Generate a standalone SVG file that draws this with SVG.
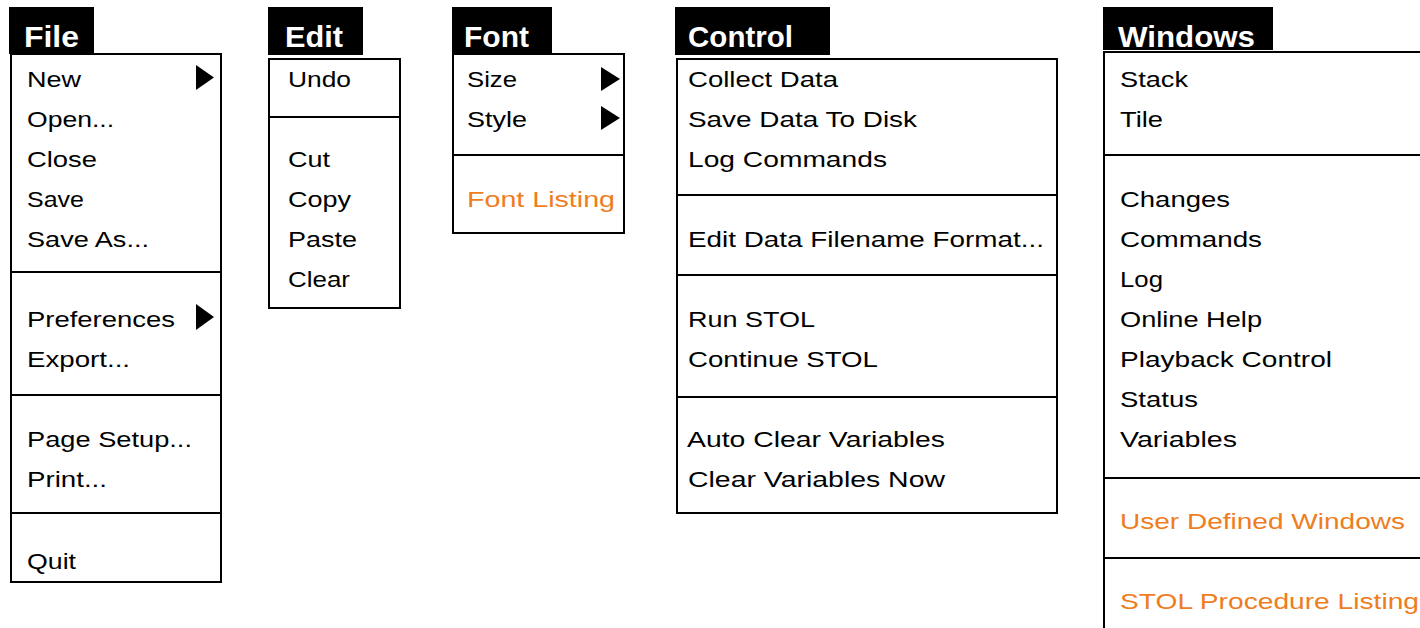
<svg xmlns="http://www.w3.org/2000/svg" width="1420" height="628" viewBox="0 0 1420 628">
  <style>
    .bg { fill: #ffffff; }
    .title { fill: #000000; }
    .title-text { fill: #ffffff; font-family: "Liberation Sans", Arial, sans-serif; font-weight: bold; font-size: 30px; }
    .box { fill: #ffffff; stroke: #000000; stroke-width: 2; }
    .sep { stroke: #000000; stroke-width: 2; }
    .item { fill: #000000; font-family: "Liberation Sans", Arial, sans-serif; font-size: 22px; }
    .hl { fill: #ee7d1e; }
    .sub { fill: #000000; }
  </style>
  <rect class="bg" x="0" y="0" width="1420" height="628"/>

  <!-- File menu -->
  <g id="menu-file">
    <rect class="title" x="9" y="7" width="85" height="47"/>
    <text class="title-text" x="24" y="47" textLength="55" lengthAdjust="spacingAndGlyphs">File</text>
    <rect class="box" x="11" y="54" width="210" height="528"/>
    <line class="sep" x1="11" y1="272" x2="221" y2="272"/>
    <line class="sep" x1="11" y1="395" x2="221" y2="395"/>
    <line class="sep" x1="11" y1="513" x2="221" y2="513"/>
    <text class="item" x="27" y="87" textLength="54" lengthAdjust="spacingAndGlyphs">New</text>
    <polygon class="sub" points="196,65 214,77.5 196,90"/>
    <text class="item" x="27" y="127" textLength="87" lengthAdjust="spacingAndGlyphs">Open...</text>
    <text class="item" x="27" y="167" textLength="70" lengthAdjust="spacingAndGlyphs">Close</text>
    <text class="item" x="27" y="207" textLength="57" lengthAdjust="spacingAndGlyphs">Save</text>
    <text class="item" x="27" y="247" textLength="122" lengthAdjust="spacingAndGlyphs">Save As...</text>
    <text class="item" x="27" y="327" textLength="148" lengthAdjust="spacingAndGlyphs">Preferences</text>
    <polygon class="sub" points="196,304 214,317 196,330"/>
    <text class="item" x="27" y="367" textLength="103" lengthAdjust="spacingAndGlyphs">Export...</text>
    <text class="item" x="27" y="447" textLength="165" lengthAdjust="spacingAndGlyphs">Page Setup...</text>
    <text class="item" x="27" y="487" textLength="80" lengthAdjust="spacingAndGlyphs">Print...</text>
    <text class="item" x="27" y="569" textLength="49" lengthAdjust="spacingAndGlyphs">Quit</text>
  </g>

  <!-- Edit menu -->
  <g id="menu-edit">
    <rect class="title" x="268" y="7" width="95" height="48"/>
    <text class="title-text" x="285" y="47" textLength="58" lengthAdjust="spacingAndGlyphs">Edit</text>
    <rect class="box" x="269" y="59" width="131" height="249"/>
    <line class="sep" x1="269" y1="117" x2="400" y2="117"/>
    <text class="item" x="288" y="87" textLength="63" lengthAdjust="spacingAndGlyphs">Undo</text>
    <text class="item" x="288" y="167" textLength="42" lengthAdjust="spacingAndGlyphs">Cut</text>
    <text class="item" x="288" y="207" textLength="63" lengthAdjust="spacingAndGlyphs">Copy</text>
    <text class="item" x="288" y="247" textLength="69" lengthAdjust="spacingAndGlyphs">Paste</text>
    <text class="item" x="288" y="287" textLength="62" lengthAdjust="spacingAndGlyphs">Clear</text>
  </g>

  <!-- Font menu -->
  <g id="menu-font">
    <rect class="title" x="452" y="7" width="100" height="48"/>
    <text class="title-text" x="464" y="47" textLength="65" lengthAdjust="spacingAndGlyphs">Font</text>
    <rect class="box" x="453" y="54" width="171" height="179"/>
    <line class="sep" x1="453" y1="155" x2="624" y2="155"/>
    <text class="item" x="467" y="87" textLength="50" lengthAdjust="spacingAndGlyphs">Size</text>
    <polygon class="sub" points="601,67 620,79 601,91"/>
    <text class="item" x="467" y="127" textLength="60" lengthAdjust="spacingAndGlyphs">Style</text>
    <polygon class="sub" points="601,106 620,118 601,130"/>
    <text class="item hl" x="467" y="207" textLength="148" lengthAdjust="spacingAndGlyphs">Font Listing</text>
  </g>

  <!-- Control menu -->
  <g id="menu-control">
    <rect class="title" x="675" y="7" width="155" height="48"/>
    <text class="title-text" x="688" y="47" textLength="105" lengthAdjust="spacingAndGlyphs">Control</text>
    <rect class="box" x="677" y="59" width="380" height="454"/>
    <line class="sep" x1="677" y1="195" x2="1057" y2="195"/>
    <line class="sep" x1="677" y1="275" x2="1057" y2="275"/>
    <line class="sep" x1="677" y1="397" x2="1057" y2="397"/>
    <text class="item" x="688" y="87" textLength="150" lengthAdjust="spacingAndGlyphs">Collect Data</text>
    <text class="item" x="688" y="127" textLength="229" lengthAdjust="spacingAndGlyphs">Save Data To Disk</text>
    <text class="item" x="688" y="167" textLength="199" lengthAdjust="spacingAndGlyphs">Log Commands</text>
    <text class="item" x="688" y="247" textLength="356" lengthAdjust="spacingAndGlyphs">Edit Data Filename Format...</text>
    <text class="item" x="688" y="327" textLength="127" lengthAdjust="spacingAndGlyphs">Run STOL</text>
    <text class="item" x="688" y="367" textLength="190" lengthAdjust="spacingAndGlyphs">Continue STOL</text>
    <text class="item" x="687" y="447" textLength="258" lengthAdjust="spacingAndGlyphs">Auto Clear Variables</text>
    <text class="item" x="688" y="487" textLength="257" lengthAdjust="spacingAndGlyphs">Clear Variables Now</text>
  </g>

  <!-- Windows menu -->
  <g id="menu-windows">
    <rect class="title" x="1103" y="7" width="170" height="43"/>
    <text class="title-text" x="1118" y="47" textLength="137" lengthAdjust="spacingAndGlyphs">Windows</text>
    <rect class="box" x="1104" y="52" width="330" height="600"/>
    <line class="sep" x1="1104" y1="155" x2="1420" y2="155"/>
    <line class="sep" x1="1104" y1="478" x2="1420" y2="478"/>
    <line class="sep" x1="1104" y1="558" x2="1420" y2="558"/>
    <text class="item" x="1120" y="87" textLength="68" lengthAdjust="spacingAndGlyphs">Stack</text>
    <text class="item" x="1120" y="127" textLength="43" lengthAdjust="spacingAndGlyphs">Tile</text>
    <text class="item" x="1120" y="207" textLength="110" lengthAdjust="spacingAndGlyphs">Changes</text>
    <text class="item" x="1120" y="247" textLength="142" lengthAdjust="spacingAndGlyphs">Commands</text>
    <text class="item" x="1120" y="287" textLength="43" lengthAdjust="spacingAndGlyphs">Log</text>
    <text class="item" x="1120" y="327" textLength="142" lengthAdjust="spacingAndGlyphs">Online Help</text>
    <text class="item" x="1120" y="367" textLength="212" lengthAdjust="spacingAndGlyphs">Playback Control</text>
    <text class="item" x="1120" y="407" textLength="78" lengthAdjust="spacingAndGlyphs">Status</text>
    <text class="item" x="1120" y="447" textLength="117" lengthAdjust="spacingAndGlyphs">Variables</text>
    <text class="item hl" x="1120" y="529" textLength="285" lengthAdjust="spacingAndGlyphs">User Defined Windows</text>
    <text class="item hl" x="1120" y="609" textLength="299" lengthAdjust="spacingAndGlyphs">STOL Procedure Listing</text>
  </g>
</svg>
